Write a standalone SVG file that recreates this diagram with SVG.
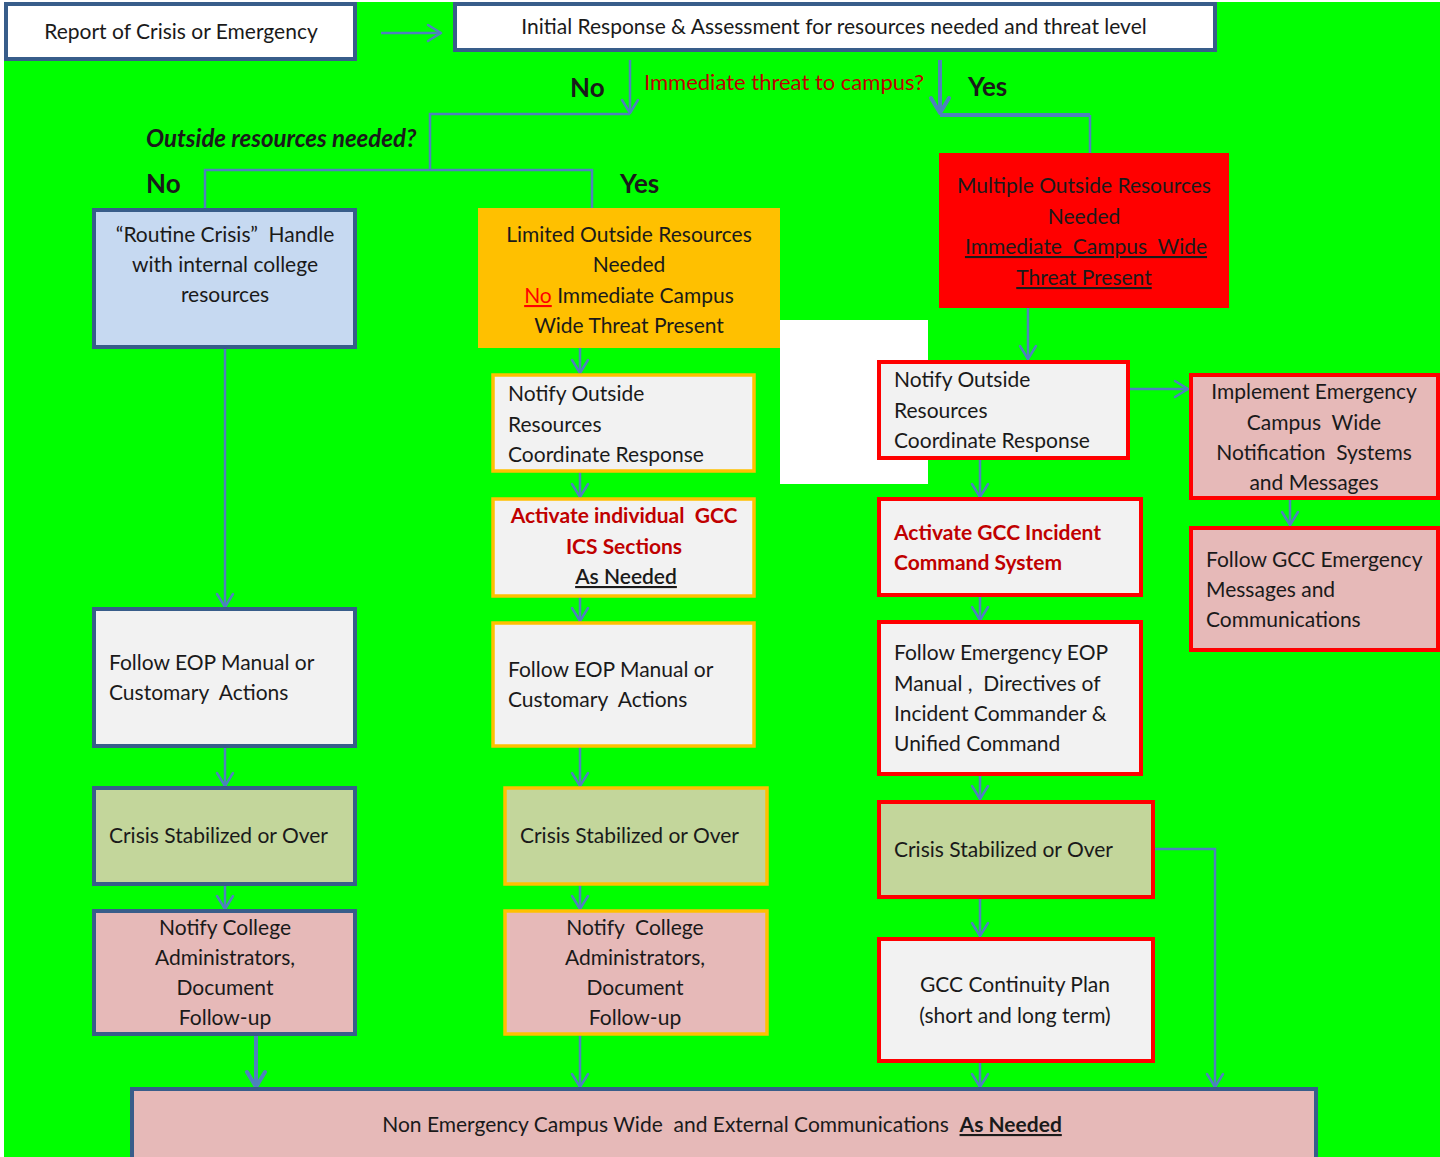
<svg xmlns="http://www.w3.org/2000/svg" width="1440" height="1157" viewBox="0 0 1440 1157">
<defs>
<style>
text{font-family:Lato,"Liberation Sans",sans-serif;font-size:21px;fill:#1a1a1a;white-space:pre}
.c{text-anchor:middle}
.bl{stroke:#385d8a;stroke-width:4}
.or{stroke:#ffc000;stroke-width:3.5}
.rd{stroke:#ff0000;stroke-width:4}
.w{fill:#ffffff}
.g{fill:#f2f2f2}
.lb{fill:#c6d9f1}
.gr{fill:#c3d69b}
.pk{fill:#e6b9b8}
.red{fill:#c00000}
.bold{font-weight:bold}
.u{text-decoration:underline}
.con{fill:none;stroke:#4f81bd;stroke-width:2.5}
.thick{stroke-width:4}
</style>
<marker id="ah" viewBox="-14 -10 16 20" refX="0" refY="0" markerWidth="16" markerHeight="20" markerUnits="userSpaceOnUse" orient="auto" overflow="visible">
<path d="M-13,-8 L0,0 L-13,8" fill="none" stroke="#4f81bd" stroke-width="2.5" stroke-linecap="round" stroke-linejoin="round"/>
</marker>
<marker id="ahb" viewBox="-16 -11 18 22" refX="0" refY="0" markerWidth="18" markerHeight="22" markerUnits="userSpaceOnUse" orient="auto" overflow="visible">
<path d="M-15,-9 L0,0 L-15,9" fill="none" stroke="#4f81bd" stroke-width="4" stroke-linecap="round" stroke-linejoin="round"/>
</marker>
</defs>
<rect x="0" y="0" width="1440" height="1157" fill="#ffffff"/>
<rect x="4" y="2" width="1436" height="1155" fill="#00ff00"/>
<rect x="780" y="320" width="148" height="164" fill="#ffffff"/>

<g id="connectors">
<line class="con" x1="381" y1="33" x2="441" y2="33" marker-end="url(#ah)"/>
<line class="con" x1="630" y1="60" x2="630" y2="113" marker-end="url(#ah)"/>
<polyline class="con" points="630,114 430,114 430,170"/>
<polyline class="con" points="205,209 205,170 592,170 592,208"/>
<line class="con thick" x1="940" y1="60" x2="940" y2="113" marker-end="url(#ahb)"/>
<polyline class="con thick" points="940,115 1090,115"/>
<line class="con" x1="1090" y1="115" x2="1090" y2="153"/>
<line class="con" x1="225" y1="347" x2="225" y2="607" marker-end="url(#ah)"/>
<line class="con" x1="225" y1="746" x2="225" y2="786" marker-end="url(#ah)"/>
<line class="con" x1="225" y1="884" x2="225" y2="909" marker-end="url(#ah)"/>
<line class="con thick" x1="256" y1="1034" x2="256" y2="1087" marker-end="url(#ahb)"/>
<line class="con" x1="580" y1="348" x2="580" y2="373" marker-end="url(#ah)"/>
<line class="con" x1="580" y1="471" x2="580" y2="497" marker-end="url(#ah)"/>
<line class="con" x1="580" y1="596" x2="580" y2="621" marker-end="url(#ah)"/>
<line class="con" x1="580" y1="746" x2="580" y2="786" marker-end="url(#ah)"/>
<line class="con" x1="580" y1="884" x2="580" y2="909" marker-end="url(#ah)"/>
<line class="con" x1="580" y1="1034" x2="580" y2="1087" marker-end="url(#ah)"/>
<line class="con" x1="1028" y1="308" x2="1028" y2="359" marker-end="url(#ah)"/>
<line class="con" x1="1128" y1="389" x2="1188" y2="389" marker-end="url(#ah)"/>
<line class="con" x1="1290" y1="498" x2="1290" y2="525" marker-end="url(#ah)"/>
<line class="con" x1="980" y1="458" x2="980" y2="497" marker-end="url(#ah)"/>
<line class="con" x1="980" y1="595" x2="980" y2="620" marker-end="url(#ah)"/>
<line class="con" x1="980" y1="774" x2="980" y2="799" marker-end="url(#ah)"/>
<line class="con" x1="980" y1="897" x2="980" y2="936" marker-end="url(#ah)"/>
<line class="con" x1="980" y1="1061" x2="980" y2="1087" marker-end="url(#ah)"/>
<polyline class="con" points="1153,849 1215,849 1215,1087" marker-end="url(#ah)"/>
</g>

<g id="labels">
<text x="570" y="97" class="bold" style="font-size:26px">No</text>
<text x="644" y="90" class="red" style="font-size:22px">Immediate threat to campus?</text>
<text x="968" y="96" class="bold" style="font-size:26px">Yes</text>
<text x="146" y="147" class="bold" style="font-size:24px;font-style:italic">Outside resources needed?</text>
<text x="146" y="193" class="bold" style="font-size:26px">No</text>
<text x="620" y="193" class="bold" style="font-size:26px">Yes</text>
</g>

<g id="n-report">
<rect x="6" y="4" width="349" height="55" class="w bl"/>
<text x="181" y="39" class="c">Report of Crisis or Emergency</text>
</g>
<g id="n-initial">
<rect x="455" y="4" width="760" height="46" class="w bl"/>
<text x="834" y="34" class="c">Initial Response &amp; Assessment for resources needed and threat level</text>
</g>

<g id="n-routine">
<rect x="94" y="210" width="261" height="137" class="lb bl"/>
<text class="c"><tspan x="225" y="242">“Routine Crisis”  Handle</tspan><tspan x="225" y="272">with internal college</tspan><tspan x="225" y="302">resources</tspan></text>
</g>
<g id="n-left-eop">
<rect x="94" y="609" width="261" height="137" class="g bl"/>
<text><tspan x="109" y="670">Follow EOP Manual or</tspan><tspan x="109" y="700">Customary  Actions</tspan></text>
</g>
<g id="n-left-stab">
<rect x="94" y="788" width="261" height="96" class="gr bl"/>
<text x="109" y="843">Crisis Stabilized or Over</text>
</g>
<g id="n-left-notify">
<rect x="94" y="911" width="261" height="123" class="pk bl"/>
<text class="c"><tspan x="225" y="935">Notify College</tspan><tspan x="225" y="965">Administrators,</tspan><tspan x="225" y="995">Document</tspan><tspan x="225" y="1025">Follow-up</tspan></text>
</g>

<g id="n-limited">
<rect x="478" y="208" width="302" height="140" fill="#ffc000"/>
<text class="c"><tspan x="629" y="242">Limited Outside Resources</tspan><tspan x="629" y="272">Needed</tspan><tspan x="629" y="303"><tspan fill="#ff0000" class="u">No</tspan> Immediate Campus</tspan><tspan x="629" y="333">Wide Threat Present</tspan></text>
</g>
<g id="n-mid-notify">
<rect x="493" y="375" width="261" height="96" class="g or"/>
<text><tspan x="508" y="401">Notify Outside</tspan><tspan x="508" y="432">Resources</tspan><tspan x="508" y="462">Coordinate Response</tspan></text>
</g>
<g id="n-mid-activate">
<rect x="493" y="499" width="261" height="97" class="g or"/>
<text class="c bold"><tspan x="624" y="523" class="red">Activate individual  GCC</tspan><tspan x="624" y="554" class="red">ICS Sections</tspan><tspan x="626" y="584" class="u" style="font-weight:600">As Needed</tspan></text>
</g>
<g id="n-mid-eop">
<rect x="493" y="623" width="261" height="123" class="g or"/>
<text><tspan x="508" y="677">Follow EOP Manual or</tspan><tspan x="508" y="707">Customary  Actions</tspan></text>
</g>
<g id="n-mid-stab">
<rect x="505" y="788" width="262" height="96" class="gr or"/>
<text x="520" y="843">Crisis Stabilized or Over</text>
</g>
<g id="n-mid-notify2">
<rect x="505" y="911" width="262" height="123" class="pk or"/>
<text class="c"><tspan x="635" y="935">Notify  College</tspan><tspan x="635" y="965">Administrators,</tspan><tspan x="635" y="995">Document</tspan><tspan x="635" y="1025">Follow-up</tspan></text>
</g>

<g id="n-multiple">
<rect x="939" y="153" width="290" height="155" fill="#ff0000"/>
<text class="c"><tspan x="1084" y="193">Multiple Outside Resources</tspan><tspan x="1084" y="224">Needed</tspan><tspan x="1086" y="254" class="u">Immediate  Campus  Wide</tspan><tspan x="1084" y="285" class="u">Threat Present</tspan></text>
</g>
<g id="n-right-notify">
<rect x="879" y="362" width="249" height="96" class="g rd"/>
<text><tspan x="894" y="387">Notify Outside</tspan><tspan x="894" y="418">Resources</tspan><tspan x="894" y="448">Coordinate Response</tspan></text>
</g>
<g id="n-implement">
<rect x="1191" y="375" width="247" height="123" class="pk rd"/>
<text class="c"><tspan x="1314" y="399">Implement Emergency</tspan><tspan x="1314" y="430">Campus  Wide</tspan><tspan x="1314" y="460">Notification  Systems</tspan><tspan x="1314" y="490">and Messages</tspan></text>
</g>
<g id="n-follow-gcc">
<rect x="1191" y="528" width="247" height="122" class="pk rd"/>
<text><tspan x="1206" y="567">Follow GCC Emergency</tspan><tspan x="1206" y="597">Messages and</tspan><tspan x="1206" y="627">Communications</tspan></text>
</g>
<g id="n-activate-ics">
<rect x="879" y="499" width="262" height="96" class="g rd"/>
<text class="red bold"><tspan x="894" y="540">Activate GCC Incident</tspan><tspan x="894" y="570">Command System</tspan></text>
</g>
<g id="n-right-eop">
<rect x="879" y="622" width="262" height="152" class="g rd"/>
<text><tspan x="894" y="660">Follow Emergency EOP</tspan><tspan x="894" y="691">Manual ,  Directives of</tspan><tspan x="894" y="721">Incident Commander &amp;</tspan><tspan x="894" y="751">Unified Command</tspan></text>
</g>
<g id="n-right-stab">
<rect x="879" y="802" width="274" height="95" class="gr rd"/>
<text x="894" y="857">Crisis Stabilized or Over</text>
</g>
<g id="n-continuity">
<rect x="879" y="939" width="274" height="122" class="g rd"/>
<text class="c"><tspan x="1015" y="992">GCC Continuity Plan</tspan><tspan x="1015" y="1023">(short and long term)</tspan></text>
</g>

<g id="n-bottom">
<rect x="132" y="1089" width="1184" height="80" class="pk bl"/>
<text x="722" y="1132" class="c">Non Emergency Campus Wide  and External Communications  <tspan class="u bold">As Needed</tspan></text>
</g>
</svg>
